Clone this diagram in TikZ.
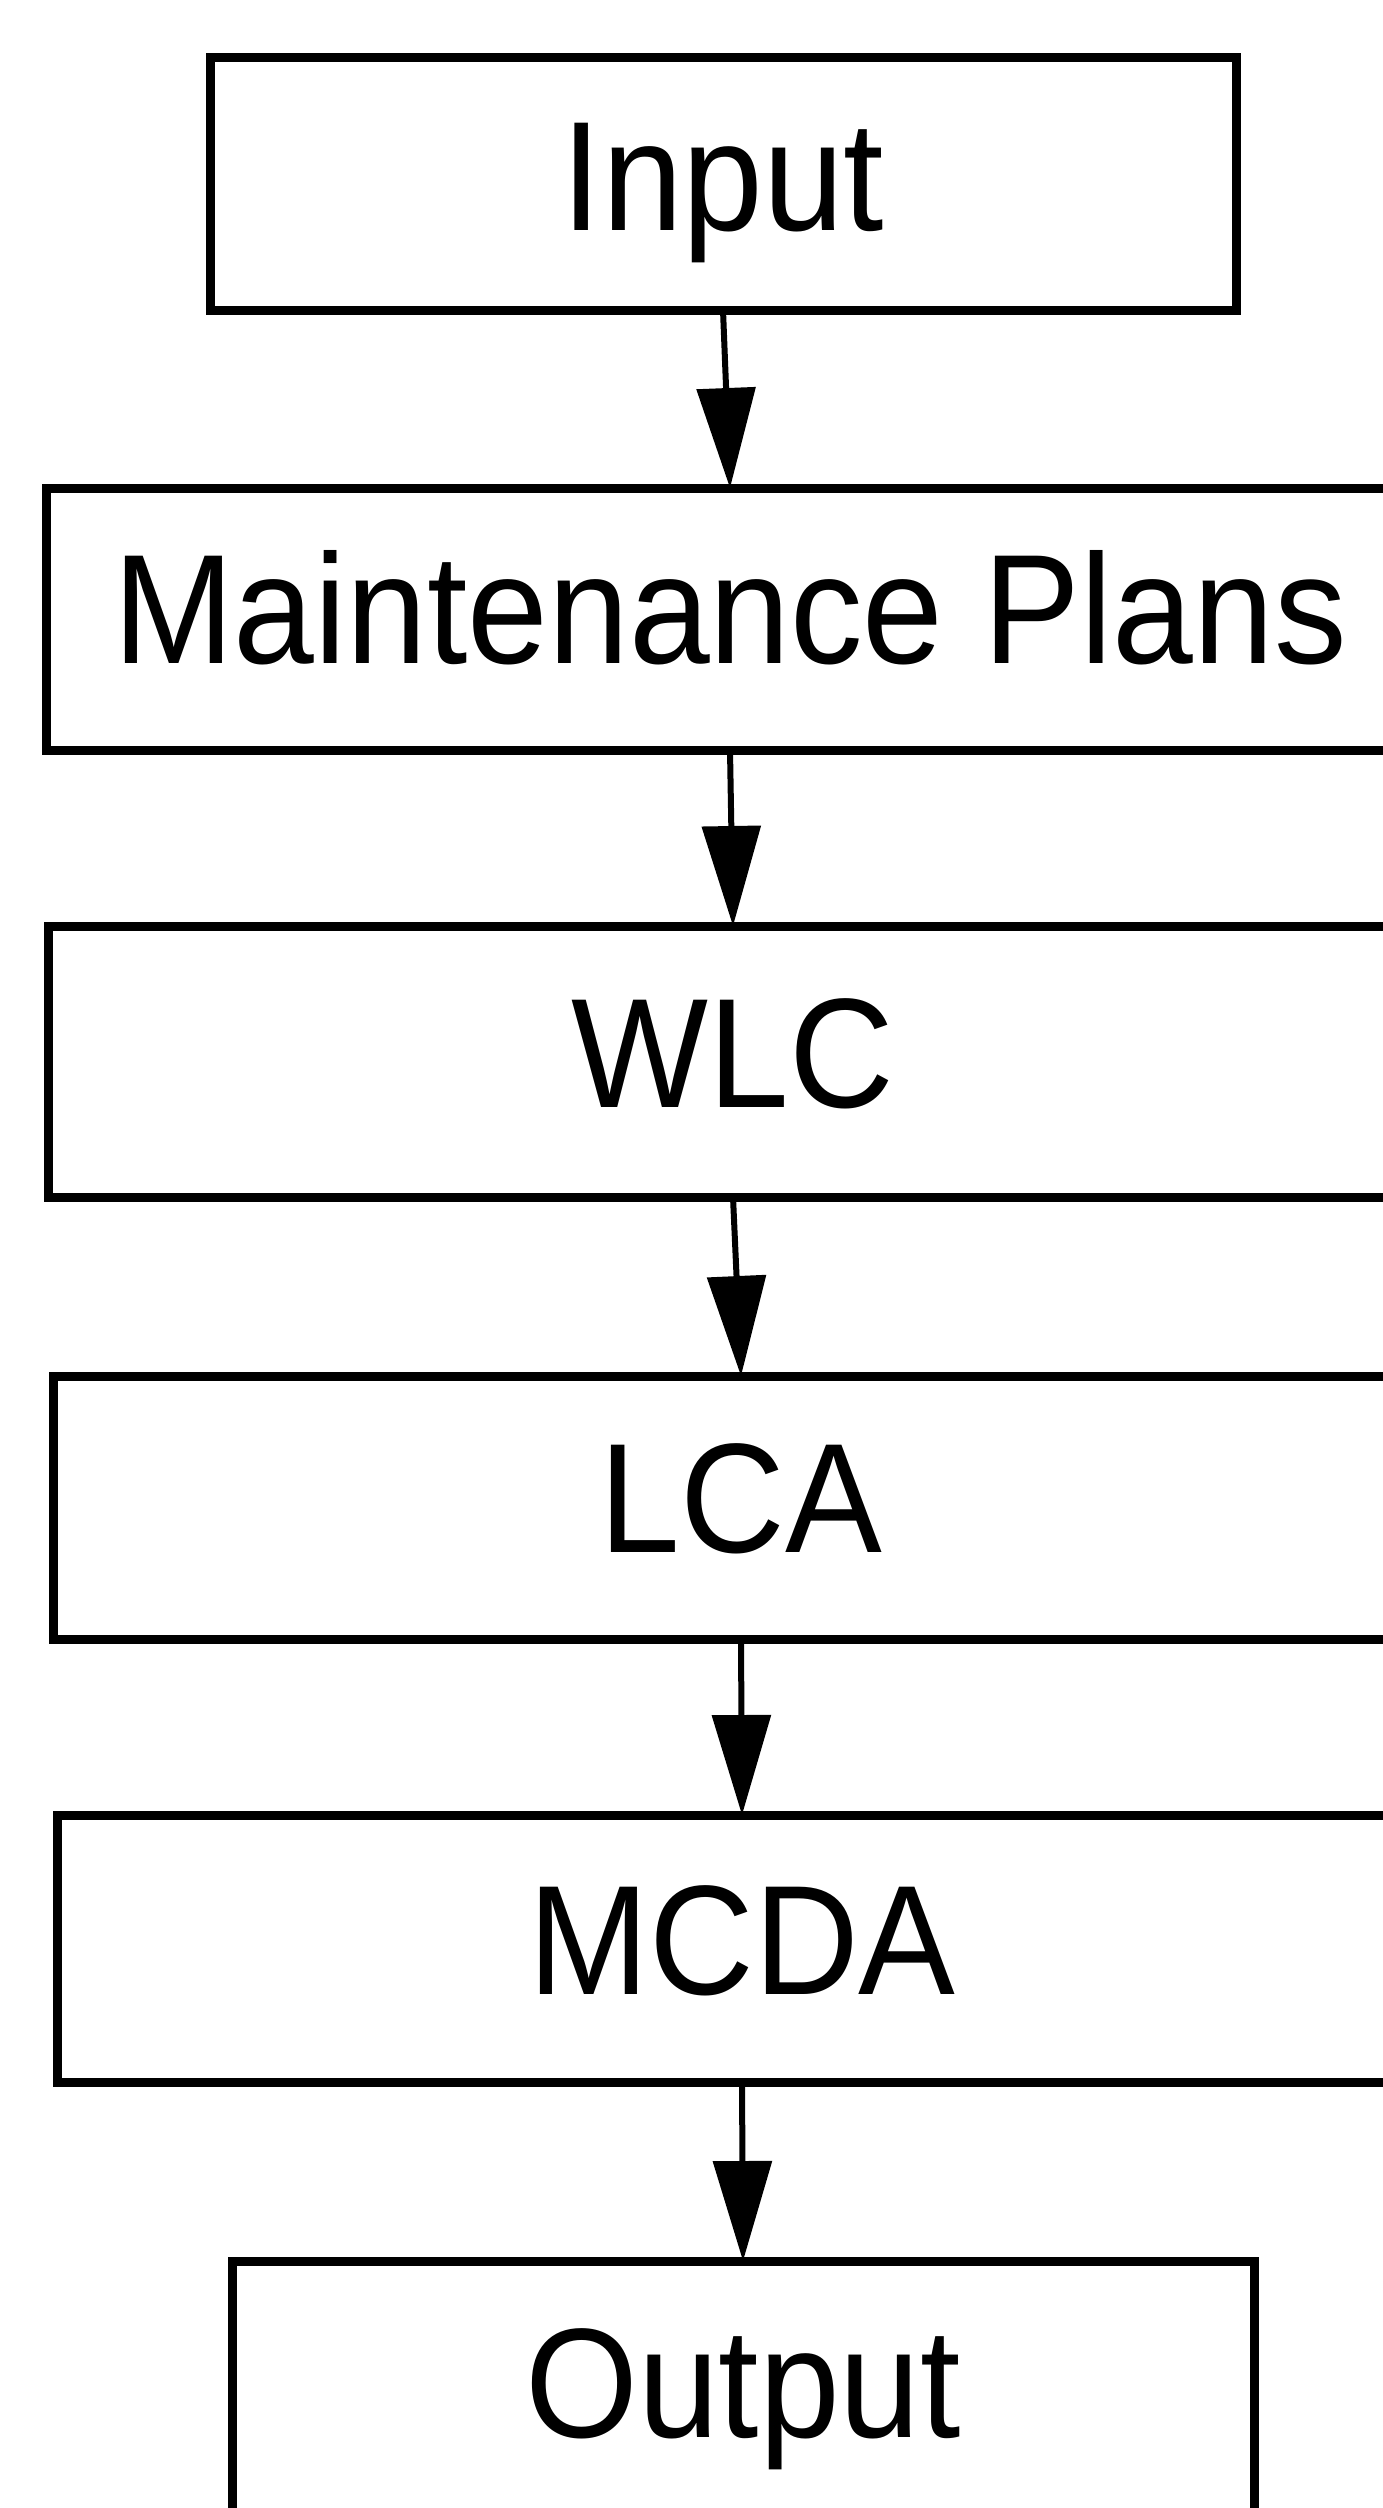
\documentclass[tikz,border=0pt]{standalone}
\usepackage{fontspec}
\setmainfont{Liberation Sans}[FakeStretch=0.93]
\usetikzlibrary{arrows.meta}
\begin{document}
\begin{tikzpicture}[x=1pt,y=-1pt,
  box/.style={draw=black, line width=9pt, inner sep=0pt, outer sep=0pt, anchor=north,
    font=\fontsize{156}{160}\selectfont},
  conn/.style={line width=6pt, -{Triangle[length=100pt,width=58pt]}}]
\useasboundingbox[fill=white] (0,0) rectangle (1383,2508);
\node[box, minimum width=1026pt, text height=173pt, text depth=80pt] (in) at (723,57) {Input};
\node[box, minimum width=1368pt, text height=175pt, text depth=87pt] (mp) at (730,488) {Maintenance Plans};
\node[box, minimum width=1370pt, text height=181pt, text depth=90pt] (wlc) at (733,926) {WLC};
\node[box, minimum width=1376pt, text height=176pt, text depth=87pt] (lca) at (741,1376) {LCA};
\node[box, minimum width=1370pt, text height=179pt, text depth=88pt] (mcda) at (742,1815) {MCDA};
\node[box, minimum width=1022pt, text height=176pt, text depth=163pt] (out) at (743,2261) {Output};
\draw[conn] (in.south) -- (mp.north);
\draw[conn] (mp.south) -- (wlc.north);
\draw[conn] (wlc.south) -- (lca.north);
\draw[conn] (lca.south) -- (mcda.north);
\draw[conn] (mcda.south) -- (out.north);
\end{tikzpicture}
\end{document}
